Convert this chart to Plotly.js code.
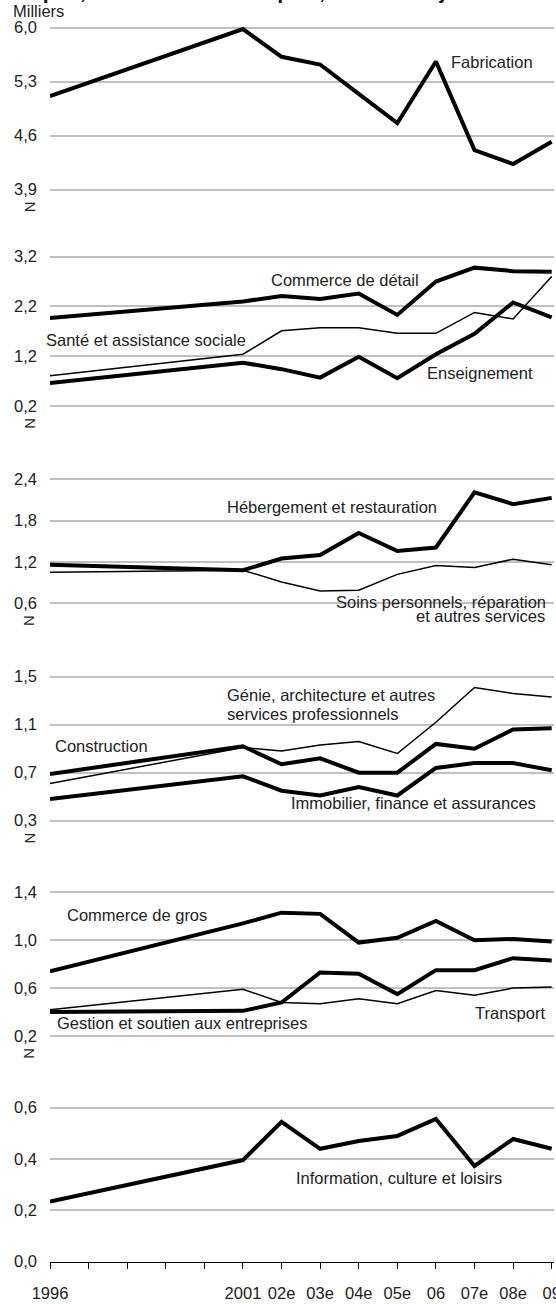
<!DOCTYPE html>
<html>
<head>
<meta charset="utf-8">
<script src="https://cdn.plot.ly/plotly-3.0.1.min.js"></script>
<style>html,body{margin:0;padding:0;background:#fff;}#chart{width:556px;height:1304px;}</style>
</head>
<body>
<div id="chart"></div>
<script>
// ---- data ----
const xYears = [1996, 2001, 2002, 2003, 2004, 2005, 2006, 2007, 2008, 2009];
const tickYears = [1996,1997,1998,1999,2000,2001,2002,2003,2004,2005,2006,2007,2008,2009];
const tickLabels = ["1996","","","","","2001","02e","03e","04e","05e","06","07e","08e","09"];

const fabrication    = [5.11, 5.98, 5.62, 5.52, 5.14, 4.76, 5.56, 4.41, 4.23, 4.52];
const commerceDetail = [1.97, 2.30, 2.41, 2.35, 2.46, 2.03, 2.70, 2.98, 2.91, 2.90];
const sante          = [0.81, 1.24, 1.71, 1.77, 1.77, 1.66, 1.66, 2.08, 1.95, 2.80];
const enseignement   = [0.66, 1.07, 0.94, 0.77, 1.19, 0.76, 1.24, 1.65, 2.28, 1.98];
const hebergement    = [1.16, 1.08, 1.25, 1.30, 1.62, 1.36, 1.41, 2.21, 2.04, 2.13];
const soins          = [1.05, 1.08, 0.91, 0.78, 0.79, 1.02, 1.15, 1.12, 1.24, 1.16];
const genie          = [0.61, 0.91, 0.88, 0.93, 0.96, 0.86, 1.12, 1.41, 1.36, 1.33];
const construction   = [0.69, 0.92, 0.77, 0.82, 0.70, 0.70, 0.94, 0.90, 1.06, 1.07];
const immobilier     = [0.48, 0.67, 0.55, 0.51, 0.58, 0.51, 0.74, 0.78, 0.78, 0.72];
const commerceGros   = [0.74, 1.14, 1.23, 1.22, 0.98, 1.02, 1.16, 1.00, 1.01, 0.99];
const transport      = [0.40, 0.41, 0.48, 0.73, 0.72, 0.55, 0.75, 0.75, 0.85, 0.83];
const gestion        = [0.42, 0.59, 0.48, 0.47, 0.51, 0.47, 0.58, 0.54, 0.60, 0.61];
const information    = [0.234, 0.396, 0.545, 0.44, 0.47, 0.49, 0.556, 0.373, 0.478, 0.44];

const panelTicks = [
  [3.9, 4.6, 5.3, 6.0],
  [0.2, 1.2, 2.2, 3.2],
  [0.6, 1.2, 1.8, 2.4],
  [0.3, 0.7, 1.1, 1.5],
  [0.2, 0.6, 1.0, 1.4],
  [0.0, 0.2, 0.4, 0.6]
];

const seriesNames = ["Fabrication","Commerce de détail","Santé et assistance sociale","Enseignement",
  "Hébergement et restauration","Soins personnels, réparation et autres services",
  "Génie, architecture et autres services professionnels","Construction","Immobilier, finance et assurances",
  "Commerce de gros","Transport","Gestion et soutien aux entreprises","Information, culture et loisirs"];
const seriesValues = [fabrication, commerceDetail, sante, enseignement, hebergement, soins, genie,
  construction, immobilier, commerceGros, transport, gestion, information];
const seriesPanel = [1,2,2,2,3,3,4,4,4,5,5,5,6];
const seriesThick = [true,true,false,true,true,false,false,true,true,true,true,false,true];

// ---- layout geometry ----
const W = 556, H = 1304, L = 50, R = 2;
const FONT = "'Liberation Sans', Arial, sans-serif";
const FS = 16.5;
function px(x){ return (x - L) / (W - L - R); }
function py(y){ return 1 - y / H; }
const panelPix = [
  {top: 27.5,  bot: 189.5,  padT: 12, padB: 12},
  {top: 256.7, bot: 406,    padT: 12, padB: 12},
  {top: 479.3, bot: 603.3,  padT: 12, padB: 12},
  {top: 676.7, bot: 820.7,  padT: 12, padB: 12},
  {top: 892.3, bot: 1036,   padT: 12, padB: 12},
  {top: 1107.7, bot: 1261.7, padT: 12, padB: 0}
];

const traces = seriesValues.map((vals, i) => ({
  x: xYears, y: vals, name: seriesNames[i],
  yaxis: seriesPanel[i] === 1 ? 'y' : 'y' + seriesPanel[i],
  type: 'scatter', mode: 'lines',
  line: {color: '#000', width: seriesThick[i] ? 4 : 1.5},
  hoverinfo: 'skip', showlegend: false
}));

const layout = {
  width: W, height: H,
  margin: {l: L, r: R, t: 0, b: 0},
  paper_bgcolor: '#fff', plot_bgcolor: '#fff',
  font: {family: FONT, size: FS, color: '#222'},
  separators: ', ',
  showlegend: false,
  xaxis: {
    anchor: 'y6', domain: [0, 1], range: [1996, 2009.06],
    tickmode: 'array', tickvals: tickYears, ticktext: tickLabels,
    tickangle: 0, ticklabeloverflow: 'allow',
    showgrid: false, zeroline: false,
    showline: true, linecolor: '#000', linewidth: 1,
    ticks: 'outside', ticklen: 6, tickcolor: '#000', tickwidth: 1,
    ticklabelstandoff: 10,
    tickfont: {family: FONT, size: FS, color: '#222'}
  },
  annotations: [],
  shapes: []
};

panelTicks.forEach((tv, k) => {
  const p = panelPix[k];
  const tmin = tv[0], tmax = tv[tv.length - 1];
  const u = (tmax - tmin) / (p.bot - p.top);
  const ax = {
    anchor: 'x',
    domain: [py(p.bot + p.padB), py(p.top - p.padT)],
    range: [tmin - p.padB * u, tmax + p.padT * u],
    tickmode: 'array', tickvals: tv, tickformat: '.1f',
    showgrid: true, gridcolor: '#c0c0c0', gridwidth: 2,
    zeroline: false, showline: false, ticks: '',
    ticklabelstandoff: 12,
    tickfont: {family: FONT, size: FS, color: '#222'}
  };
  layout[k === 0 ? 'yaxis' : 'yaxis' + (k + 1)] = ax;
  if (k < 5) {
    layout.annotations.push({
      xref: 'paper', yref: 'paper', x: px(30), y: py(p.bot + 17),
      text: 'N', textangle: 90, showarrow: false,
      xanchor: 'center', yanchor: 'middle',
      font: {family: FONT, size: 15, color: '#222'}
    });
  }
});

function lab(text, x, y, anchor){
  layout.annotations.push({
    xref: 'paper', yref: 'paper', x: px(x), y: py(y), text: text,
    showarrow: false, xanchor: anchor || 'left', yanchor: 'middle',
    borderpad: 0, font: {family: FONT, size: FS, color: '#222'}
  });
}
lab('Milliers', 12, 10.5);
lab('Fabrication', 450, 62);
lab('Commerce de détail', 270, 280);
lab('Santé et assistance sociale', 45, 340);
lab('Enseignement', 426, 373);
lab('Hébergement et restauration', 226, 507);
lab('Soins personnels, réparation', 547, 602, 'right');
lab('et autres services', 546, 615.5, 'right');
lab('Génie, architecture et autres', 226, 695.5);
lab('services professionnels', 226, 714);
lab('Construction', 54, 746);
lab('Immobilier, finance et assurances', 290, 803);
lab('Commerce de gros', 66, 915);
lab('Transport', 474, 1013);
lab('Gestion et soutien aux entreprises', 56, 1023);
lab('Information, culture et loisirs', 295, 1178);

// cut-off title at the very top
layout.annotations.push({
  xref: 'paper', yref: 'paper', x: px(276), y: py(4),
  text: '<b>Emploi, secteurs économiques, MRC de Lajemmerais</b>',
  showarrow: false, xanchor: 'center', yanchor: 'bottom', borderpad: 0,
  font: {family: FONT, size: 21, color: '#111'}
});

Plotly.newPlot('chart', traces, layout, {staticPlot: true, displayModeBar: false});
</script>
</body>
</html>
